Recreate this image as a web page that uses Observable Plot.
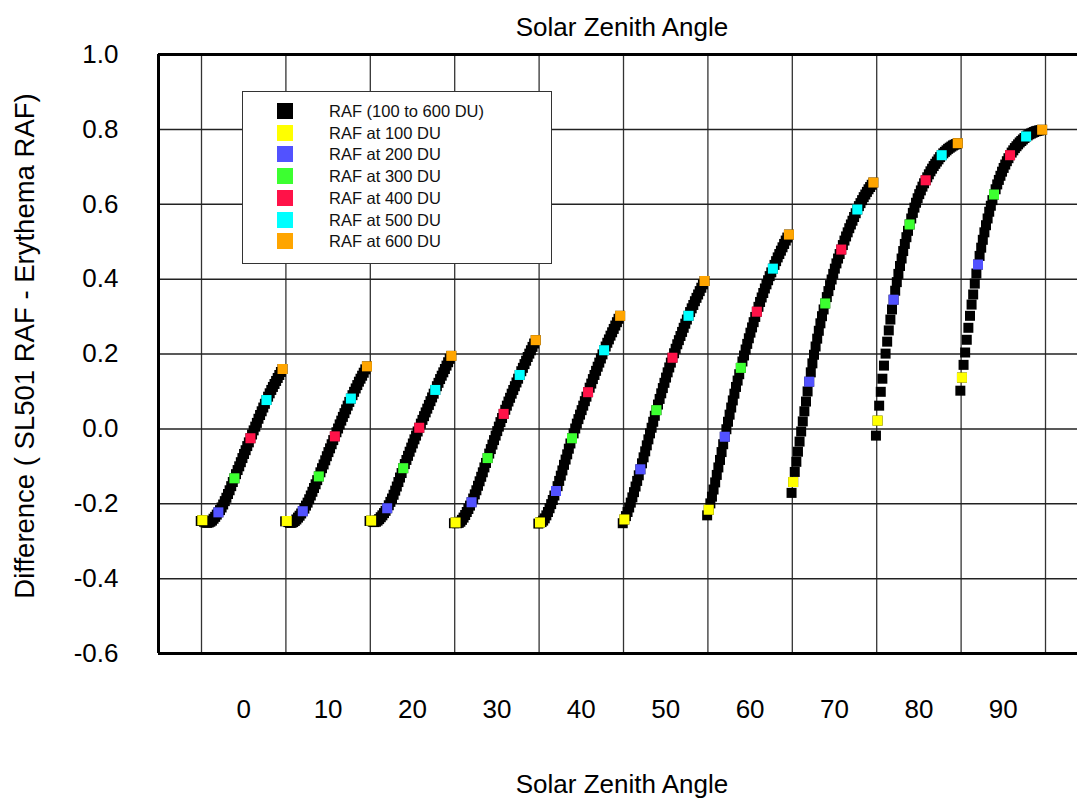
<!DOCTYPE html>
<html>
<head>
<meta charset="utf-8">
<script src="https://cdn.jsdelivr.net/npm/d3@7"></script>
<script src="https://cdn.jsdelivr.net/npm/@observablehq/plot@0.6"></script>
<style>
  html, body { margin: 0; padding: 0; background: #fff; }
  #wrap { position: relative; width: 1077px; height: 800px; overflow: hidden; }
  #legend { position: absolute; left: 242px; top: 91px; width: 310px; height: 173px;
            background: #fff; border: 1px solid #333; box-sizing: border-box;
            font-family: "Liberation Sans", Arial, sans-serif; font-size: 16.5px; color: #111; }
  .lsw { position: absolute; left: 34px; width: 16px; height: 16px; }
  .ltx { position: absolute; left: 86px; white-space: nowrap; line-height: 16px; }
</style>
</head>
<body>
<div id="wrap"><div id="chart"></div><div id="legend"></div></div>
<script>
// Solar zenith angle groups
const sza = [0, 10, 20, 30, 40, 50, 60, 70, 80, 90];
// Total ozone (DU) of each point in a group
const du = [90, 100, 110, 120, 130, 140, 150, 160, 170, 180, 190, 200,
  210, 220, 230, 240, 250, 260, 270, 280, 290, 300,
  310, 320, 330, 340, 350, 360, 370, 380, 390, 400,
  410, 420, 430, 440, 450, 460, 470, 480, 490, 500,
  510, 520, 530, 540, 550, 560, 570, 580, 590, 600];
// Difference (SL501 RAF - Erythema RAF), one array per SZA, DU 90..600
const raf0 = [-0.246, -0.244, -0.248, -0.250, -0.251, -0.250, -0.248, -0.245, -0.240, -0.235, -0.229, -0.223,
  -0.217, -0.210, -0.202, -0.193, -0.184, -0.174, -0.164, -0.153, -0.142, -0.132,
  -0.121, -0.110, -0.100, -0.089, -0.078, -0.067, -0.057, -0.046, -0.036, -0.025,
  -0.015, -0.004, 0.006, 0.016, 0.027, 0.037, 0.047, 0.057, 0.067, 0.077,
  0.086, 0.095, 0.104, 0.112, 0.120, 0.128, 0.136, 0.144, 0.152, 0.160];
const raf10 = [-0.247, -0.246, -0.249, -0.251, -0.251, -0.249, -0.246, -0.242, -0.237, -0.232, -0.226, -0.220,
  -0.213, -0.205, -0.197, -0.188, -0.178, -0.168, -0.158, -0.148, -0.137, -0.127,
  -0.116, -0.105, -0.095, -0.084, -0.073, -0.062, -0.052, -0.041, -0.030, -0.020,
  -0.009, 0.001, 0.012, 0.022, 0.032, 0.042, 0.052, 0.062, 0.072, 0.081,
  0.090, 0.099, 0.108, 0.117, 0.126, 0.134, 0.142, 0.150, 0.159, 0.167];
const raf20 = [-0.246, -0.245, -0.248, -0.249, -0.248, -0.245, -0.241, -0.236, -0.231, -0.225, -0.219, -0.212,
  -0.204, -0.195, -0.186, -0.176, -0.165, -0.154, -0.142, -0.130, -0.118, -0.105,
  -0.094, -0.083, -0.072, -0.061, -0.050, -0.039, -0.028, -0.018, -0.007, 0.003,
  0.014, 0.024, 0.034, 0.044, 0.054, 0.064, 0.074, 0.084, 0.094, 0.104,
  0.114, 0.123, 0.133, 0.142, 0.151, 0.160, 0.169, 0.178, 0.187, 0.195];
const raf30 = [-0.252, -0.250, -0.252, -0.251, -0.248, -0.243, -0.237, -0.230, -0.222, -0.214, -0.205, -0.196,
  -0.186, -0.175, -0.164, -0.152, -0.140, -0.128, -0.116, -0.103, -0.091, -0.078,
  -0.066, -0.054, -0.042, -0.030, -0.018, -0.006, 0.006, 0.018, 0.029, 0.040,
  0.051, 0.062, 0.073, 0.083, 0.094, 0.104, 0.114, 0.124, 0.134, 0.144,
  0.154, 0.163, 0.173, 0.182, 0.192, 0.201, 0.210, 0.219, 0.228, 0.237];
const raf40 = [-0.253, -0.250, -0.249, -0.245, -0.239, -0.231, -0.222, -0.212, -0.201, -0.190, -0.178, -0.166,
  -0.153, -0.139, -0.125, -0.111, -0.096, -0.082, -0.068, -0.053, -0.039, -0.025,
  -0.012, 0.001, 0.014, 0.026, 0.038, 0.050, 0.062, 0.074, 0.086, 0.098,
  0.110, 0.121, 0.133, 0.144, 0.155, 0.166, 0.177, 0.188, 0.199, 0.210,
  0.220, 0.230, 0.239, 0.249, 0.258, 0.267, 0.276, 0.285, 0.294, 0.302];
const raf50 = [-0.252, -0.242, -0.233, -0.222, -0.210, -0.197, -0.183, -0.169, -0.154, -0.139, -0.124, -0.108,
  -0.092, -0.076, -0.060, -0.044, -0.028, -0.012, 0.003, 0.019, 0.035, 0.050,
  0.065, 0.080, 0.095, 0.109, 0.123, 0.137, 0.151, 0.164, 0.177, 0.190,
  0.202, 0.214, 0.226, 0.237, 0.248, 0.259, 0.270, 0.281, 0.292, 0.302,
  0.312, 0.322, 0.331, 0.341, 0.350, 0.359, 0.368, 0.377, 0.386, 0.395];
const raf60 = [-0.231, -0.216, -0.199, -0.181, -0.162, -0.143, -0.123, -0.103, -0.083, -0.062, -0.041, -0.021,
  -0.001, 0.019, 0.038, 0.057, 0.076, 0.094, 0.112, 0.129, 0.146, 0.163,
  0.180, 0.196, 0.212, 0.227, 0.242, 0.257, 0.271, 0.285, 0.299, 0.313,
  0.326, 0.339, 0.351, 0.363, 0.375, 0.386, 0.397, 0.408, 0.418, 0.428,
  0.438, 0.448, 0.458, 0.467, 0.476, 0.485, 0.494, 0.503, 0.511, 0.519];
const raf70 = [-0.171, -0.142, -0.115, -0.088, -0.061, -0.034, -0.007, 0.020, 0.047, 0.073, 0.100, 0.126,
  0.151, 0.175, 0.198, 0.220, 0.241, 0.262, 0.282, 0.301, 0.319, 0.335,
  0.352, 0.368, 0.384, 0.399, 0.414, 0.428, 0.442, 0.455, 0.467, 0.479,
  0.491, 0.503, 0.514, 0.525, 0.536, 0.546, 0.556, 0.566, 0.576, 0.586,
  0.595, 0.603, 0.611, 0.619, 0.626, 0.633, 0.640, 0.646, 0.652, 0.658];
const raf80 = [-0.018, 0.022, 0.062, 0.099, 0.134, 0.169, 0.201, 0.233, 0.263, 0.292, 0.319, 0.345,
  0.369, 0.392, 0.414, 0.435, 0.455, 0.475, 0.494, 0.512, 0.529, 0.546,
  0.562, 0.577, 0.591, 0.604, 0.616, 0.627, 0.637, 0.647, 0.656, 0.664,
  0.672, 0.680, 0.688, 0.695, 0.702, 0.708, 0.714, 0.720, 0.726, 0.731,
  0.736, 0.740, 0.744, 0.748, 0.751, 0.754, 0.757, 0.759, 0.761, 0.763];
const raf90 = [0.102, 0.137, 0.171, 0.204, 0.238, 0.270, 0.302, 0.332, 0.359, 0.388, 0.415, 0.439,
  0.462, 0.484, 0.505, 0.525, 0.544, 0.562, 0.580, 0.596, 0.611, 0.626,
  0.640, 0.653, 0.665, 0.676, 0.687, 0.697, 0.706, 0.715, 0.723, 0.731,
  0.738, 0.744, 0.750, 0.755, 0.760, 0.765, 0.769, 0.773, 0.777, 0.781,
  0.784, 0.787, 0.789, 0.791, 0.793, 0.795, 0.796, 0.797, 0.798, 0.799];
// Highlighted ozone levels and their colours
const levels = [100, 200, 300, 400, 500, 600];
const levelColors = ["#ffff00", "#5252ff", "#3cff30", "#ff1248", "#00ffff", "#ffa500"];
const legendLabels = ["RAF (100 to 600 DU)", "RAF at 100 DU", "RAF at 200 DU", "RAF at 300 DU",
  "RAF at 400 DU", "RAF at 500 DU", "RAF at 600 DU"];
// Axis ticks and grid
const xTicks = [0, 10, 20, 30, 40, 50, 60, 70, 80, 90];
const xGrid = [-5, 5, 15, 25, 35, 45, 55, 65, 75, 85, 95];
const yTicks = [-0.6, -0.4, -0.2, 0.0, 0.2, 0.4, 0.6, 0.8, 1.0];
const yGrid = [-0.4, -0.2, 0.0, 0.2, 0.4, 0.6, 0.8];

const series = [raf0, raf10, raf20, raf30, raf40, raf50, raf60, raf70, raf80, raf90];
const rows = sza.flatMap((s, gi) => series[gi].map((v, i) => ({sza: s, du: du[i], raf: v})));
// within a group, ozone spreads the points across the SZA bin
const xpos = d => d.sza - 4.9 + (d.du - 100) * 0.019;

const xDomain = [-10.095, 98.79];
const sq = 10 / Math.sqrt(Math.PI);

const marks = [
  Plot.ruleX(xGrid, {stroke: "#333", strokeWidth: 1.3}),
  Plot.ruleY(yGrid, {stroke: "#222", strokeWidth: 1.5}),
  Plot.axisX({ticks: xTicks, tickSize: 0, tickPadding: 46, label: null, tickFormat: d => String(d)}),
  Plot.axisY({ticks: yTicks, tickSize: 0, tickPadding: 40, label: null, tickFormat: d => d.toFixed(1)}),
  Plot.ruleY([1.0], {stroke: "#000", strokeWidth: 3}),
  Plot.ruleY([-0.6], {stroke: "#000", strokeWidth: 3}),
  Plot.ruleX([xDomain[0]], {stroke: "#000", strokeWidth: 3, y1: -0.6, y2: 1.0}),
  Plot.dot(rows, {x: xpos, y: "raf", symbol: "square", r: sq, fill: "#000"}),
  ...levels.map((lv, k) => Plot.dot(rows.filter(d => d.du === lv),
    {x: xpos, y: "raf", symbol: "square", r: sq, fill: levelColors[k]})),
  Plot.text(["Solar Zenith Angle"], {frameAnchor: "top", dy: -27, dx: 4, lineAnchor: "middle", textAnchor: "middle", fontSize: 26}),
  Plot.text(["Solar Zenith Angle"], {frameAnchor: "bottom", dy: 131, dx: 4, lineAnchor: "middle", textAnchor: "middle", fontSize: 26}),
  Plot.text(["Difference ( SL501 RAF - Erythema RAF)"], {frameAnchor: "left", dx: -133, dy: -8, rotate: -90, lineAnchor: "middle", textAnchor: "middle", fontSize: 27.5})
];

const chart = Plot.plot({
  width: 1077, height: 800,
  marginLeft: 158, marginRight: 0, marginTop: 54, marginBottom: 147,
  style: {fontFamily: "'Liberation Sans', Arial, sans-serif", fontSize: "26px", background: "#fff", color: "#000"},
  x: {domain: xDomain},
  y: {domain: [-0.6, 1.0]},
  marks
});
document.getElementById("chart").appendChild(chart);

// legend
const lg = document.getElementById("legend");
const swatches = ["#000", ...levelColors];
legendLabels.forEach((t, i) => {
  const top = 11 + i * 21.7;
  const sw = document.createElement("div");
  sw.className = "lsw"; sw.style.top = top + "px"; sw.style.background = swatches[i];
  const tx = document.createElement("div");
  tx.className = "ltx"; tx.style.top = top + "px"; tx.textContent = t;
  lg.appendChild(sw); lg.appendChild(tx);
});
</script>
</body>
</html>
